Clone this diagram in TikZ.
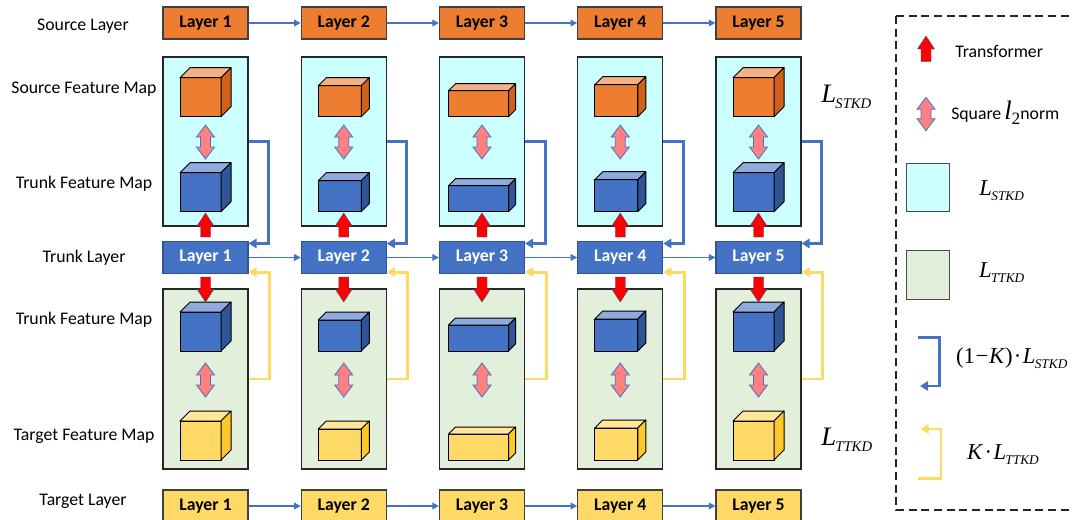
\documentclass[tikz,border=0pt]{standalone}
\usepackage{fontspec}
\setmainfont{Carlito}
\newfontfamily\tnr{Liberation Serif}
\usetikzlibrary{arrows.meta,calc}

\definecolor{cOr}{HTML}{ED7D31}
\definecolor{cOrT}{HTML}{F4B183}
\definecolor{cOrS}{HTML}{D0601A}
\definecolor{cBl}{HTML}{4472C4}
\definecolor{cBlT}{HTML}{8FAADC}
\definecolor{cBlS}{HTML}{2F5597}
\definecolor{cYe}{HTML}{FFD966}
\definecolor{cYeT}{HTML}{FFE699}
\definecolor{cYeS}{HTML}{FFC82A}
\definecolor{cCy}{HTML}{CCFFFF}
\definecolor{cGr}{HTML}{E2EFDA}
\definecolor{cYl}{HTML}{FFD966}
\definecolor{cPk}{HTML}{FF8080}
\definecolor{cRd}{HTML}{FF0000}

\newcommand\Lsub[3]{{\tnr\itshape\fontsize{#1}{#1}\selectfont L\kern-0.5pt\raisebox{-0.22em}{\fontsize{#2}{#2}\selectfont #3}}}

\newcommand\fcube[8]{%
  \pgfmathsetmacro\cxa{#1-(#3+#5)/2}%
  \pgfmathsetmacro\cxb{\cxa+#3}%
  \pgfmathsetmacro\cxc{\cxb+#5}%
  \pgfmathsetmacro\cxd{\cxa+#5}%
  \pgfmathsetmacro\cya{#2}%
  \pgfmathsetmacro\cyb{#2-#4}%
  \pgfmathsetmacro\cyc{#2-#4-#5}%
  \pgfmathsetmacro\cye{#2-#5}%
  \filldraw[fill=#6,cubeline] (\cxa,\cya) rectangle (\cxb,\cyb);
  \filldraw[fill=#7,cubeline] (\cxa,\cyb) -- (\cxd,\cyc) -- (\cxc,\cyc) -- (\cxb,\cyb) -- cycle;
  \filldraw[fill=#8,cubeline] (\cxb,\cya) -- (\cxc,\cye) -- (\cxc,\cyc) -- (\cxb,\cyb) -- cycle;
}
\newcommand\uparr[3]{%
  \filldraw[redarrow] (#1-5,#2) -- (#1-5,#3+13) -- (#1-8.5,#3+13) -- (#1,#3) -- (#1+8.5,#3+13) -- (#1+5,#3+13) -- (#1+5,#2) -- cycle;}
\newcommand\downarr[3]{%
  \filldraw[redarrow] (#1-5,#2) -- (#1-5,#3-13) -- (#1-8.5,#3-13) -- (#1,#3) -- (#1+8.5,#3-13) -- (#1+5,#3-13) -- (#1+5,#2) -- cycle;}
\newcommand\dblarr[3]{%
  \filldraw[pinkarrow] (#1,#2) -- (#1+9,#2+12) -- (#1+5,#2+12) -- (#1+5,#3-12) -- (#1+9,#3-12) -- (#1,#3) -- (#1-9,#3-12) -- (#1-5,#3-12) -- (#1-5,#2+12) -- (#1-9,#2+12) -- cycle;}

\tikzset{
  layerbox/.style={draw=black!75, line width=0.8pt, minimum width=63.75pt, minimum height=24pt, inner sep=0pt, font=\fontsize{13.3}{16}\selectfont\bfseries},
  srcbox/.style={layerbox, fill=cOr},
  trkbox/.style={layerbox, fill=cBl, draw=cBlS, text=white},
  tgtbox/.style={layerbox, fill=cYe},
  panel/.style={draw=black!85, line width=0.8pt, minimum width=63.75pt, inner sep=0pt},
  cyanpanel/.style={panel, fill=cCy, minimum height=126.75pt},
  greenpanel/.style={panel, fill=cGr, minimum height=135pt},
  flow/.style={draw=cBl, line width=1.1pt, -{Triangle[length=5pt,width=5pt]}},
  fbblue/.style={draw=cBl, line width=2.2pt, -{Triangle[length=6pt,width=7pt]}},
  fbyellow/.style={draw=cYl, line width=2.2pt, -{Triangle[length=6pt,width=7pt]}},
  lbl/.style={font=\fontsize{13.3}{16}\selectfont, inner sep=0pt},
  cubeline/.style={draw=black, line width=0.75pt, line join=round},
  redarrow/.style={fill=cRd, draw=cBl!70!black, line width=0.3pt},
  pinkarrow/.style={fill=cPk, draw=cBl, line width=0.6pt},
  legbox/.style={draw=black!70, line width=0.8pt, minimum width=32pt, minimum height=36.4pt, inner sep=0pt}
}

\begin{document}
\begin{tikzpicture}[x=0.75pt,y=-0.75pt]
\useasboundingbox (0,0) rectangle (1072,519);

% left labels
\node[lbl] (tSL) at (83,26) {Source Layer};
\node[lbl] (tSFM) at (84,89) {Source Feature Map};
\node[lbl] (tTFM1) at (84,184) {Trunk Feature Map};
\node[lbl] (tTL) at (84,258) {Trunk Layer};
\node[lbl] (tTFM2) at (84,320) {Trunk Feature Map};
\node[lbl] (tTgFM) at (84,436) {Target Feature Map};
\node[lbl] (tTgL) at (83,501) {Target Layer};

\foreach \i/\cx/\cubw/\cubh/\cubd in {1/205.5/41/39/10, 2/343.75/43/31/8, 3/482/60/26/7, 4/620.25/43/32/8, 5/758.5/41/39/10}{
  \node[cyanpanel] (sp\i) at (\cx,141.5) {};
  \node[greenpanel] (gp\i) at (\cx,379) {};
  \node[srcbox] (src\i) at (\cx,23) {Layer \i};
  \node[trkbox] (trk\i) at (\cx,257.5) {Layer \i};
  \node[tgtbox] (tgt\i) at (\cx,506) {Layer \i};
  \fcube{\cx}{116.7}{\cubw}{\cubh}{\cubd}{cOr}{cOrT}{cOrS}
  \fcube{\cx}{211.7}{\cubw}{\cubh}{\cubd}{cBl}{cBlT}{cBlS}
  \fcube{\cx}{351}{\cubw}{\cubh}{\cubd}{cBl}{cBlT}{cBlS}
  \fcube{\cx}{460}{\cubw}{\cubh}{\cubd}{cYe}{cYeT}{cYeS}
  \uparr{\cx}{237}{213}
  \downarr{\cx}{277}{302}
  \dblarr{\cx}{125}{159}
  \dblarr{\cx}{363}{397}
  \draw[fbblue] (sp\i.east) -- ++(20,0) |- ($(trk\i.north east)+(0,2.5)$);
  \draw[fbyellow] (gp\i.east) -- ++(21,0) |- ($(trk\i.south east)+(0,-2)$);
}

\foreach \i [evaluate=\i as \j using int(\i+1)] in {1,...,4}{
  \draw[flow] (src\i.east) -- (src\j.west);
  \draw[flow] (trk\i.east) -- (trk\j.west);
  \draw[flow] (tgt\i.east) -- (tgt\j.west);
}

% right labels
\node[anchor=west, inner sep=0pt] (rS) at (821,97) {\Lsub{20}{11}{STKD}};
\node[anchor=west, inner sep=0pt] (rT) at (821,440) {\Lsub{20}{11}{TTKD}};

% legend
\draw[black!85, line width=1.5pt, dash pattern=on 6pt off 3.5pt] (896,16) rectangle (1090,510);
\uparr{926}{61.7}{36}
\node[lbl, anchor=west] (lgT) at (955,51.7) {Transformer};
\dblarr{926}{97.3}{130.7}
\node[lbl, anchor=west] (lgS) at (951,113) {Square\,{\tnr\itshape\fontsize{20}{20}\selectfont l}\raisebox{-3.5pt}{\tnr\fontsize{13}{13}\selectfont 2}norm};
\node[legbox, fill=cCy] (lgC) at (928,187.5) {};
\node (lgCt) at (1001.7,191) {\Lsub{17}{10}{STKD}};
\node[legbox, fill=cGr] (lgG) at (928,275) {};
\node (lgGt) at (1001.7,273) {\Lsub{17}{10}{TTKD}};
\coordinate (bb1) at (918,337.3);
\coordinate (bb2) at (920,386);
\draw[fbblue] (bb1) -- (939.3,337.3) |- (bb2);
\node (lgB) at (1011.7,358) {\tnr\fontsize{17}{17}\selectfont (1\kern0.5pt−\kern0.5pt\textit{K})\kern1pt·\kern1pt\Lsub{17}{10}{STKD}};
\coordinate (yb1) at (918,478.3);
\coordinate (yb2) at (920.7,429);
\draw[fbyellow] (yb1) -- (941,478.3) |- (yb2);
\node (lgY) at (1003,455) {\tnr\fontsize{17}{17}\selectfont\textit{K}\kern1pt·\kern1pt\Lsub{17}{10}{TTKD}};
\end{tikzpicture}
\end{document}
